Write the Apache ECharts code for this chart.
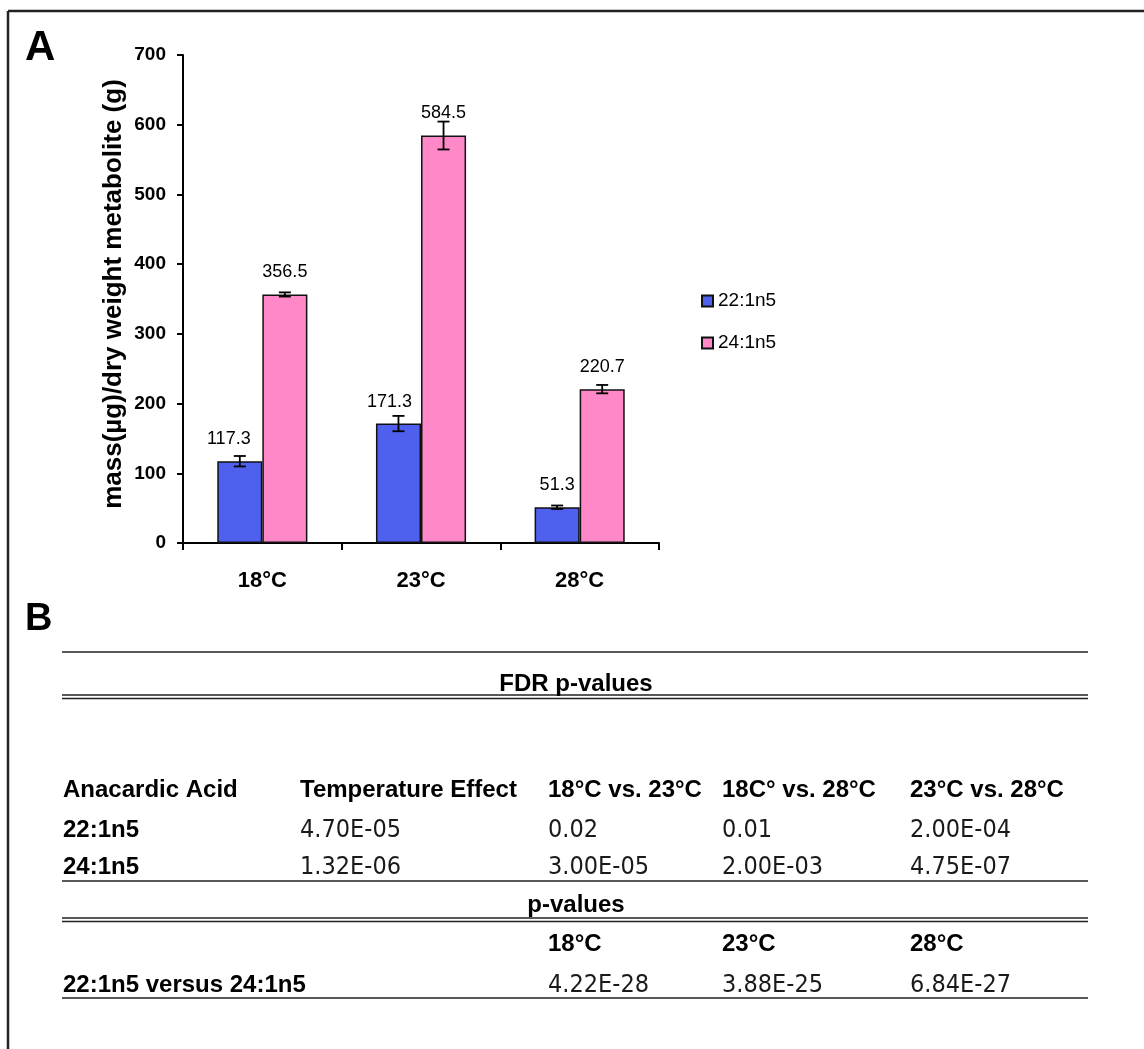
<!DOCTYPE html>
<html>
<head>
<meta charset="utf-8">
<script src="https://cdn.jsdelivr.net/npm/echarts@6/dist/echarts.min.js"></script>
<style>
html,body{margin:0;padding:0;background:#fff;}
#chart{width:1144px;height:1049px;}
</style>
</head>
<body>
<div id="chart"></div>
<script>
// ---------- DATA ----------
const categories = ['18°C', '23°C', '28°C'];
const seriesNames = ['22:1n5', '24:1n5'];
const values22 = [117.3, 171.3, 51.3];
const values24 = [356.5, 584.5, 220.7];
const err22 = [7.5, 11, 2.5];
const err24 = [3, 20, 6];
const yMin = 0, yMax = 700, yInterval = 100;
const yAxisTitle = 'mass(µg)/dry weight metabolite (g)';
const panelA = 'A';
const panelB = 'B';

const fdrTitle = 'FDR p-values';
const fdrHeader = ['Anacardic Acid', 'Temperature Effect', '18°C vs. 23°C', '18C° vs. 28°C', '23°C vs. 28°C'];
const fdrRow1 = ['22:1n5', '4.70E-05', '0.02', '0.01', '2.00E-04'];
const fdrRow2 = ['24:1n5', '1.32E-06', '3.00E-05', '2.00E-03', '4.75E-07'];
const pTitle = 'p-values';
const pHeader = ['', '', '18°C', '23°C', '28°C'];
const pRow1 = ['22:1n5 versus 24:1n5', '', '4.22E-28', '3.88E-25', '6.84E-27'];

// ---------- STYLE / LAYOUT ----------
const BLUE = '#4F5FEE';
const PINK = '#FF88C8';
const BAR_FRAC = 0.284;
const SANS = '"Liberation Sans", Arial, sans-serif';
const NUMFONT = '"DejaVu Sans Condensed", "DejaVu Sans", sans-serif';
const labelShift22 = [[-11, 0], [-9, 0], [0, 0]];

const colX = [63, 300, 548, 722, 910];
const tableLeft = 62, tableRight = 1088, tableCenter = 576;
const rowY = { fdrTitle: 684, header: 790, r1: 830, r2: 867, pTitle: 905, pHeader: 944, pRow: 985 };
const singleLines = [652, 881, 998];
const doubleLines = [[695, 698.5], [918, 921.5]];

const chart = echarts.init(document.getElementById('chart'));

function errSeries(vals, errs, sign, name) {
  return {
    type: 'custom',
    name: name,
    silent: true,
    z: 5,
    encode: { x: 0, y: [1, 2] },
    data: vals.map((v, i) => [i, v - errs[i], v + errs[i]]),
    renderItem: function (params, api) {
      const i = api.value(0);
      const lo = api.coord([i, api.value(1)]);
      const hi = api.coord([i, api.value(2)]);
      const cw = api.size([1, 0])[0];
      const x = lo[0] + sign * cw * BAR_FRAC / 2;
      const hw = 6;
      const st = { stroke: '#000', lineWidth: 1.8 };
      return {
        type: 'group',
        children: [
          { type: 'line', shape: { x1: x, y1: hi[1], x2: x, y2: lo[1] }, style: st },
          { type: 'line', shape: { x1: x - hw, y1: hi[1], x2: x + hw, y2: hi[1] }, style: st },
          { type: 'line', shape: { x1: x - hw, y1: lo[1], x2: x + hw, y2: lo[1] }, style: st }
        ]
      };
    }
  };
}

function txt(x, y, text, bold, align, font, size) {
  return {
    type: 'text', x: x, y: y, silent: true,
    style: {
      text: text,
      fontFamily: font || SANS,
      fontSize: size || 24,
      fontWeight: bold ? 'bold' : 'normal',
      fill: bold ? '#000' : '#1a1a1a',
      align: align || 'left',
      verticalAlign: 'middle'
    }
  };
}
function hline(y, w) {
  return { type: 'line', silent: true, shape: { x1: tableLeft, y1: y, x2: tableRight, y2: y }, style: { stroke: '#222', lineWidth: w || 1.5 } };
}

const graphics = [];
graphics.push({ type: 'line', silent: true, shape: { x1: 8, y1: 11, x2: 1144, y2: 11 }, style: { stroke: '#222', lineWidth: 2.5 } });
graphics.push({ type: 'line', silent: true, shape: { x1: 8, y1: 11, x2: 8, y2: 1049 }, style: { stroke: '#222', lineWidth: 2.5 } });
graphics.push(txt(25, 48, panelA, true, 'left', SANS, 42));
graphics.push(txt(25, 620, panelB, true, 'left', SANS, 38));
singleLines.forEach(y => graphics.push(hline(y, 1.5)));
doubleLines.forEach(p => { graphics.push(hline(p[0], 1.3)); graphics.push(hline(p[1], 1.3)); });
graphics.push(txt(tableCenter, rowY.fdrTitle, fdrTitle, true, 'center'));
graphics.push(txt(tableCenter, rowY.pTitle, pTitle, true, 'center'));
function addRow(cells, y, allBold) {
  cells.forEach((c, j) => {
    if (!c) return;
    const bold = allBold || j === 0;
    graphics.push(txt(colX[j], y, c, bold, 'left', bold ? SANS : NUMFONT, bold ? 24 : 25));
  });
}
addRow(fdrHeader, rowY.header, true);
addRow(fdrRow1, rowY.r1, false);
addRow(fdrRow2, rowY.r2, false);
addRow(pHeader, rowY.pHeader, true);
addRow(pRow1, rowY.pRow, false);

const option = {
  animation: false,
  backgroundColor: '#fff',
  grid: { left: 183, right: 485, top: 55, bottom: 506, containLabel: false },
  legend: {
    data: seriesNames,
    orient: 'vertical',
    left: 696,
    top: 286,
    itemWidth: 11,
    itemHeight: 11,
    itemGap: 22,
    icon: 'rect',
    textStyle: { fontFamily: SANS, fontSize: 19, color: '#000', lineHeight: 20 }
  },
  xAxis: {
    type: 'category',
    data: categories,
    axisLine: { lineStyle: { color: '#000', width: 2 } },
    axisTick: { show: true, length: 7, lineStyle: { color: '#000', width: 2 } },
    axisLabel: { fontFamily: SANS, fontSize: 22, fontWeight: 'bold', color: '#000', margin: 27 }
  },
  yAxis: {
    type: 'value',
    min: yMin, max: yMax, interval: yInterval,
    name: yAxisTitle,
    nameLocation: 'middle',
    nameGap: 56,
    nameTextStyle: { fontFamily: SANS, fontSize: 26, fontWeight: 'bold', color: '#000', padding: [0, 0, 0, 10] },
    axisLine: { show: true, lineStyle: { color: '#000', width: 2 } },
    axisTick: { show: true, length: 6, lineStyle: { color: '#000', width: 2 } },
    axisLabel: { fontFamily: SANS, fontSize: 19, fontWeight: 'bold', color: '#000', margin: 17 },
    splitLine: { show: false }
  },
  series: [
    {
      name: seriesNames[0], type: 'bar', barWidth: (BAR_FRAC * 100) + '%', barGap: '0%',
      itemStyle: { color: BLUE, borderColor: '#111', borderWidth: 1.5 },
      label: { show: true, position: 'top', distance: 13, fontFamily: SANS, fontSize: 18, color: '#000', formatter: p => p.value.toFixed(1) },
      data: values22.map((v, i) => ({ value: v, label: { offset: labelShift22[i] } }))
    },
    {
      name: seriesNames[1], type: 'bar', barWidth: (BAR_FRAC * 100) + '%', barGap: '0%',
      itemStyle: { color: PINK, borderColor: '#111', borderWidth: 1.5 },
      label: { show: true, position: 'top', distance: 13, fontFamily: SANS, fontSize: 18, color: '#000', formatter: p => p.value.toFixed(1) },
      data: values24
    },
    errSeries(values22, err22, -1, 'err22'),
    errSeries(values24, err24, 1, 'err24')
  ],
  graphic: graphics
};
chart.setOption(option);
</script>
</body>
</html>
